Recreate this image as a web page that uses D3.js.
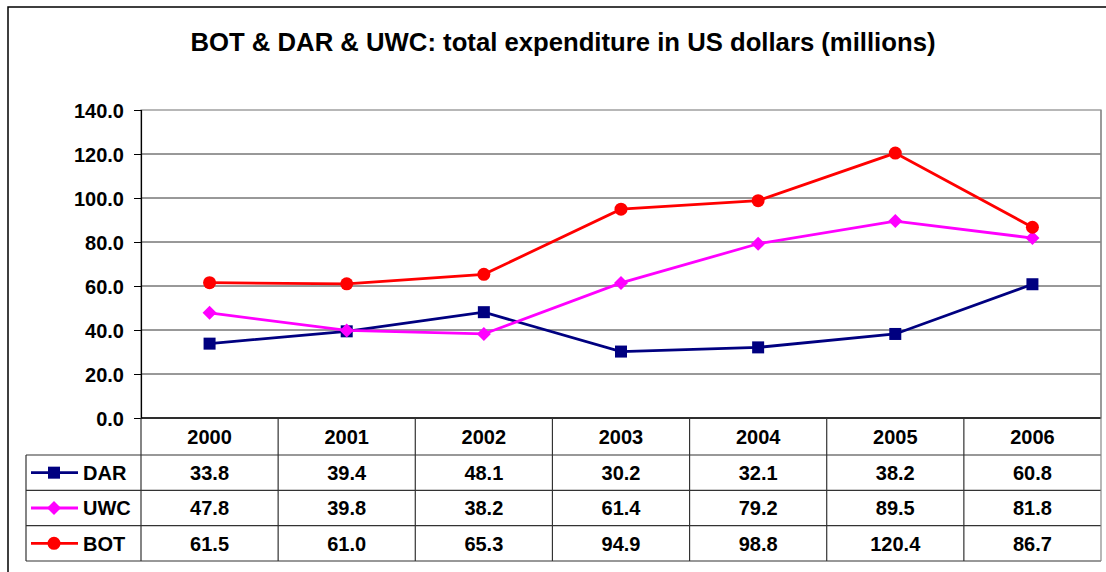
<!DOCTYPE html>
<html>
<head>
<meta charset="utf-8">
<script src="https://cdn.jsdelivr.net/npm/d3@7"></script>
<style>
  body { margin: 0; background: #fff; }
  text { font-family: Arial, "Liberation Sans", sans-serif; font-weight: bold; fill: #000; }
</style>
</head>
<body>
<script>
// chart data
var years = ["2000", "2001", "2002", "2003", "2004", "2005", "2006"];
var darValues = [33.8, 39.4, 48.1, 30.2, 32.1, 38.2, 60.8];
var uwcValues = [47.8, 39.8, 38.2, 61.4, 79.2, 89.5, 81.8];
var botValues = [61.5, 61.0, 65.3, 94.9, 98.8, 120.4, 86.7];
var yTicks = [0, 20, 40, 60, 80, 100, 120, 140];
var seriesNames = ["DAR", "UWC", "BOT"];

// series table built from the arrays above
var series = [
  { name: "DAR", values: darValues, color: "#000080", marker: "square" },
  { name: "UWC", values: uwcValues, color: "#ff00ff", marker: "diamond" },
  { name: "BOT", values: botValues, color: "#ff0000", marker: "circle" }
];

var w = 1106, h = 572;
var pLeft = 141, pRight = 1101, pTop = 110, pBottom = 418;
var tableLeft = 26, headBottom = 455, tableBottom = 561;

var svg = d3.select("body").append("svg")
  .attr("width", w)
  .attr("height", h);

svg.append("rect").attr("width", w).attr("height", h).attr("fill", "#fff");

// outer frame (right and bottom run off the picture)
svg.append("rect")
  .attr("x", 8).attr("y", 7)
  .attr("width", 1120).attr("height", 600)
  .attr("fill", "none").attr("stroke", "#000").attr("stroke-width", 1.5);

// title
svg.append("text")
  .attr("x", 563).attr("y", 51)
  .attr("text-anchor", "middle")
  .style("font-size", "25.7px")
  .text("BOT & DAR & UWC: total expenditure in US dollars (millions)");

var x = d3.scaleBand().domain(years).range([pLeft, pRight]);
var y = d3.scaleLinear().domain([0, 140]).range([pBottom, pTop]);

// gridlines
svg.append("g").selectAll("line")
  .data(yTicks.filter(function(d) { return d > 0 && d < 140; }))
  .enter().append("line")
  .attr("x1", pLeft).attr("x2", pRight)
  .attr("y1", function(d) { return y(d); })
  .attr("y2", function(d) { return y(d); })
  .attr("stroke", "#333").attr("stroke-width", 1);

// plot area border
svg.append("rect")
  .attr("x", pLeft).attr("y", pTop)
  .attr("width", pRight - pLeft).attr("height", pBottom - pTop)
  .attr("fill", "none").attr("stroke", "#888").attr("stroke-width", 1.2);

// y axis
var yAxis = d3.axisLeft(y)
  .tickValues(yTicks)
  .tickFormat(d3.format(".1f"))
  .tickSize(7)
  .tickPadding(10);

var gy = svg.append("g")
  .attr("transform", "translate(" + pLeft + ",0)")
  .call(yAxis);
gy.select(".domain").attr("stroke", "#000").attr("stroke-width", 1.2);
gy.selectAll(".tick line").attr("stroke", "#000");
gy.selectAll(".tick text")
  .attr("dy", "0.36em")
  .style("font-size", "20px")
  .style("font-family", "Arial, 'Liberation Sans', sans-serif")
  .style("font-weight", "bold")
  .attr("fill", "#000");

// data table
var rowY = d3.scaleBand().domain(seriesNames).range([headBottom, tableBottom]);
var table = svg.append("g");
var tableStroke = "#333";

// horizontal lines of the table
table.append("line")
  .attr("x1", pLeft).attr("x2", pRight)
  .attr("y1", pBottom).attr("y2", pBottom)
  .attr("stroke", "#000").attr("stroke-width", 1.5);
table.selectAll("line.row")
  .data(seriesNames.concat(["end"]))
  .enter().append("line")
  .attr("class", "row")
  .attr("x1", tableLeft).attr("x2", pRight)
  .attr("y1", function(d) { return d === "end" ? tableBottom : rowY(d); })
  .attr("y2", function(d) { return d === "end" ? tableBottom : rowY(d); })
  .attr("stroke", tableStroke).attr("stroke-width", 1.2);

// vertical lines of the table
table.selectAll("line.col")
  .data(years.slice(1))
  .enter().append("line")
  .attr("class", "col")
  .attr("x1", function(d) { return x(d); })
  .attr("x2", function(d) { return x(d); })
  .attr("y1", pBottom).attr("y2", tableBottom)
  .attr("stroke", tableStroke).attr("stroke-width", 1.2);
table.append("line")
  .attr("x1", pLeft).attr("x2", pLeft)
  .attr("y1", pBottom).attr("y2", tableBottom)
  .attr("stroke", tableStroke).attr("stroke-width", 1.2);
table.append("line")
  .attr("x1", pRight).attr("x2", pRight)
  .attr("y1", pTop).attr("y2", tableBottom)
  .attr("stroke", "#888").attr("stroke-width", 1.2);
table.append("line")
  .attr("x1", tableLeft).attr("x2", tableLeft)
  .attr("y1", headBottom).attr("y2", tableBottom)
  .attr("stroke", tableStroke).attr("stroke-width", 1.2);

// year headers
table.selectAll("text.year")
  .data(years)
  .enter().append("text")
  .attr("class", "year")
  .attr("x", function(d) { return x(d) + x.bandwidth() / 2; })
  .attr("y", (pBottom + headBottom) / 2)
  .attr("dy", "0.36em")
  .attr("text-anchor", "middle")
  .style("font-size", "20px")
  .text(function(d) { return d; });

// markers
function drawMarker(g, type, color) {
  if (type === "square") {
    g.append("rect").attr("x", -6).attr("y", -6).attr("width", 12).attr("height", 12)
      .attr("fill", color);
  } else if (type === "diamond") {
    g.append("path").attr("d", "M0,-7L7,0L0,7L-7,0Z").attr("fill", color);
  } else {
    g.append("circle").attr("r", 6.5).attr("fill", color);
  }
}

// value cells and legend keys
series.forEach(function(s) {
  var cy = rowY(s.name) + rowY.bandwidth() / 2;
  table.append("line")
    .attr("x1", 31).attr("x2", 78)
    .attr("y1", cy).attr("y2", cy)
    .attr("stroke", s.color).attr("stroke-width", 2.8);
  drawMarker(table.append("g").attr("transform", "translate(54," + cy + ")"), s.marker, s.color);
  table.append("text")
    .attr("x", 83).attr("y", cy).attr("dy", "0.36em")
    .style("font-size", "20px")
    .text(s.name);
  table.selectAll(null)
    .data(s.values)
    .enter().append("text")
    .attr("x", function(d, i) { return x(years[i]) + x.bandwidth() / 2; })
    .attr("y", cy).attr("dy", "0.36em")
    .attr("text-anchor", "middle")
    .style("font-size", "20px")
    .text(function(d) { return d3.format(".1f")(d); });
});

// lines and points
var line = d3.line()
  .x(function(d, i) { return x(years[i]) + x.bandwidth() / 2; })
  .y(function(d) { return y(d); });

series.forEach(function(s) {
  svg.append("path")
    .datum(s.values)
    .attr("d", line)
    .attr("fill", "none")
    .attr("stroke", s.color)
    .attr("stroke-width", 2.8);
  s.values.forEach(function(v, i) {
    var g = svg.append("g")
      .attr("transform", "translate(" + (x(years[i]) + x.bandwidth() / 2) + "," + y(v) + ")");
    drawMarker(g, s.marker, s.color);
  });
});
</script>
</body>
</html>
